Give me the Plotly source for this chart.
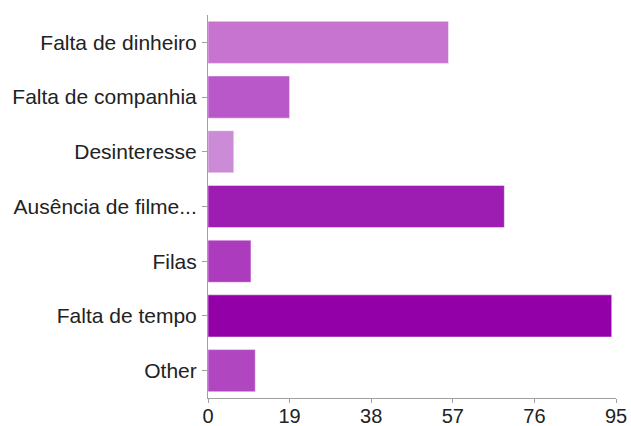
import plotly.graph_objects as go

# Survey answers, listed top to bottom
categories = [
    "Falta de dinheiro",
    "Falta de companhia",
    "Desinteresse",
    "Ausência de filme...",
    "Filas",
    "Falta de tempo",
    "Other",
]
counts = [56, 19, 6, 69, 10, 94, 11]
bar_colors = ["#c674d0", "#b958c8", "#cb8bd6", "#9d1cb2", "#ad3bbe", "#9300a8", "#b046c0"]
x_ticks = [0, 19, 38, 57, 76, 95]

fig = go.Figure(
    go.Bar(
        x=counts,
        y=categories,
        orientation="h",
        marker=dict(color=bar_colors, line=dict(color="rgba(255,255,255,0.45)", width=1)),
        hoverinfo="x+y",
    )
)

fig.update_layout(
    width=631,
    height=426,
    margin=dict(l=208, r=15, t=15, b=28, autoexpand=False),
    paper_bgcolor="white",
    plot_bgcolor="white",
    bargap=0.23,
    showlegend=False,
    font=dict(family="Liberation Sans, Arial, sans-serif", color="#222"),
)

fig.update_xaxes(
    range=[0, 95],
    tickvals=x_ticks,
    ticktext=[str(v) for v in x_ticks],
    showgrid=False,
    zeroline=False,
    showline=True,
    linecolor="#a0a0a0",
    linewidth=1,
    ticks="outside",
    ticklen=4,
    tickcolor="#a0a0a0",
    tickfont=dict(size=20),
    ticklabelstandoff=-4,
    automargin=False,
)

fig.update_yaxes(
    categoryorder="array",
    categoryarray=categories,
    autorange="reversed",
    showgrid=False,
    zeroline=False,
    showline=True,
    linecolor="#a0a0a0",
    linewidth=1,
    ticks="outside",
    ticklen=5,
    tickcolor="#a0a0a0",
    tickfont=dict(size=21),
    ticklabelstandoff=1,
    automargin=False,
)

fig.write_html("out.html")
